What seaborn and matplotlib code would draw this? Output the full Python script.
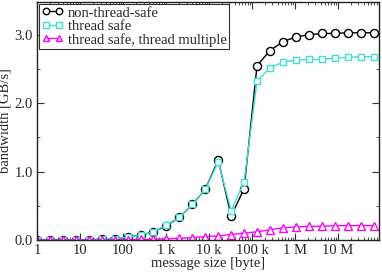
import numpy as np
import pandas as pd
import matplotlib
matplotlib.use('Agg')
import matplotlib.pyplot as plt
import matplotlib.ticker as mticker
import seaborn as sns

# message sizes: 2^0 .. 2^26 byte
sizes = [2 ** k for k in range(27)]

non_thread_safe = [0.0, 0.0, 0.0, 0.0, 0.005, 0.01, 0.02, 0.04, 0.07, 0.12,
                   0.21, 0.33, 0.52, 0.74, 1.17, 0.35, 0.75, 2.55, 2.77, 2.90,
                   2.97, 3.00, 3.02, 3.02, 3.03, 3.03, 3.03]
thread_safe = [0.0, 0.0, 0.0, 0.0, 0.005, 0.01, 0.02, 0.04, 0.07, 0.12,
               0.22, 0.33, 0.52, 0.74, 1.14, 0.43, 0.85, 2.32, 2.52, 2.60,
               2.63, 2.64, 2.64, 2.66, 2.67, 2.68, 2.68]
thread_multiple = [0.0, 0.0, 0.0, 0.0, 0.0, 0.0, 0.002, 0.005, 0.008, 0.012,
                   0.018, 0.025, 0.035, 0.05, 0.06, 0.08, 0.1, 0.12, 0.15, 0.18,
                   0.19, 0.2, 0.2, 0.21, 0.21, 0.21, 0.21]

series_names = ['non-thread-safe', 'thread safe', 'thread safe, thread multiple']
series_colors = ['black', '#40e0d0', '#ff00ff']
series_markers = ['o', 's', '^']
series_msizes = [5.8, 4.8, 5.8]

xtick_values = [1, 10, 100, 1e3, 1e4, 1e5, 1e6, 1e7]
xtick_labels = ['1', '10', '100', '1 k', '10 k', '100 k', '1 M', '10 M']

df = pd.DataFrame({
    'size': sizes * 3,
    'bw': non_thread_safe + thread_safe + thread_multiple,
    'series': sum([[n] * len(sizes) for n in series_names], []),
})

sns.set_style('ticks')
plt.rcParams['font.family'] = ['Liberation Serif', 'DejaVu Serif']
plt.rcParams['font.size'] = 10.5

fig = plt.figure(figsize=(3.82, 2.76), dpi=100)
ax = fig.add_axes([37 / 382, 36 / 276, 342 / 382, 238 / 276])

for name, col, mk, ms in zip(series_names, series_colors, series_markers, series_msizes):
    sns.lineplot(data=df[df['series'] == name], x='size', y='bw', ax=ax,
                 color=col, marker=mk, markersize=ms, markerfacecolor='white',
                 markeredgecolor=col, markeredgewidth=1.0, linewidth=1.0,
                 label=name)

ax.set_xscale('log')
ax.set_xlim(1, 9e7)
ax.set_ylim(0, 3.48)
ax.xaxis.set_major_locator(mticker.FixedLocator(xtick_values))
ax.xaxis.set_major_formatter(mticker.FixedFormatter(xtick_labels))
ax.xaxis.set_minor_locator(mticker.LogLocator(base=10, subs=np.arange(2, 10), numticks=20))
ax.xaxis.set_minor_formatter(mticker.NullFormatter())
ax.yaxis.set_major_locator(mticker.MultipleLocator(1.0))
ax.yaxis.set_minor_locator(mticker.MultipleLocator(0.5))
ax.yaxis.set_major_formatter(mticker.FormatStrFormatter('%.1f'))

ax.tick_params(which='both', direction='in', top=True, right=True, color='#333333')
ax.tick_params(which='major', length=5, width=0.8, pad=3, labelsize=10.5)
ax.tick_params(which='minor', length=2.5, width=0.6)
for s in ax.spines.values():
    s.set_color('#222222')
    s.set_linewidth(1.0)

ax.set_xlabel('message size [byte]', fontsize=10.5, labelpad=0)
ax.set_ylabel('bandwidth [GB/s]', fontsize=10.5, labelpad=2)

leg = ax.legend(loc='upper left', fontsize=10.5, numpoints=2, markerscale=0.8,
                handlelength=1.5, handletextpad=0.3, borderpad=0.15,
                labelspacing=0.0, borderaxespad=0.15, fancybox=False)
leg.get_frame().set_edgecolor('#333333')
leg.get_frame().set_linewidth(0.8)
leg.get_frame().set_alpha(1)

fig.savefig('out.png', dpi=100)
